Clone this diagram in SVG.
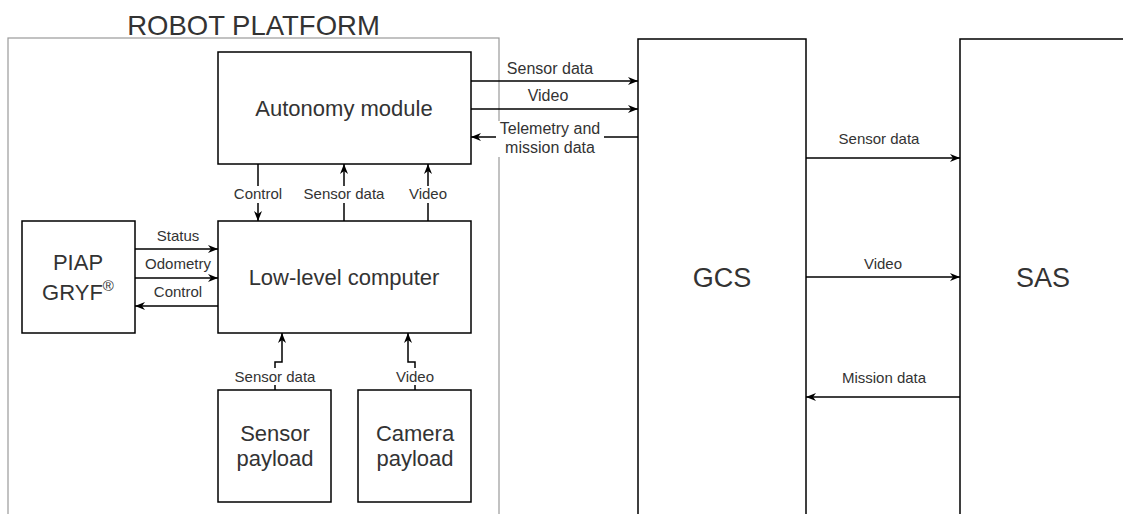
<svg xmlns="http://www.w3.org/2000/svg" width="1123" height="514" viewBox="0 0 1123 514">
  <style>
    .box { fill: #fff; stroke: #000; stroke-width: 1.5; }
    .frame { fill: none; stroke: #9a9a9a; stroke-width: 1.2; }
    .wire { fill: none; stroke: #000; stroke-width: 1.5; }
    .big { font-family: "Liberation Sans", Arial, sans-serif; font-size: 22px; fill: #333; text-anchor: middle; }
    .huge { font-family: "Liberation Sans", Arial, sans-serif; font-size: 27px; fill: #333; text-anchor: middle; }
    .lbl { font-family: "Liberation Sans", Arial, sans-serif; font-size: 15px; fill: #333; text-anchor: middle; }
    .lbl16 { font-family: "Liberation Sans", Arial, sans-serif; font-size: 16px; fill: #333; text-anchor: middle; }
    .bg { fill: #fff; stroke: none; }
  </style>
  <defs>
    <marker id="arrow" viewBox="0 0 10 8" refX="10" refY="4" markerWidth="10" markerHeight="8" markerUnits="userSpaceOnUse" orient="auto">
      <path d="M0,0 L10,4 L0,8 L3,4 z" fill="#000"/>
    </marker>
  </defs>

  <!-- robot platform container -->
  <g id="robot-platform">
    <rect class="frame" x="8" y="38" width="491" height="500"/>
    <text class="huge" x="253.5" y="35" style="font-size:27.5px">ROBOT PLATFORM</text>
  </g>

  <!-- external stations -->
  <g id="gcs">
    <rect class="box" x="638" y="39" width="168" height="500"/>
    <text class="huge" x="722" y="287">GCS</text>
  </g>
  <g id="sas">
    <rect class="box" x="960" y="39" width="168" height="500"/>
    <text class="huge" x="1043" y="287">SAS</text>
  </g>

  <!-- platform modules -->
  <g id="autonomy-module">
    <rect class="box" x="218" y="52" width="253" height="112"/>
    <text class="big" x="344" y="116">Autonomy module</text>
  </g>
  <g id="low-level-computer">
    <rect class="box" x="218" y="221" width="253" height="112"/>
    <text class="big" x="344" y="285">Low-level computer</text>
  </g>
  <g id="piap-gryf">
    <rect class="box" x="22" y="221" width="113" height="112"/>
    <text class="big" x="78" y="270">PIAP</text>
    <text class="big" x="78" y="300">GRYF<tspan style="font-size:15px" dy="-9">®</tspan></text>
  </g>
  <g id="sensor-payload">
    <rect class="box" x="218" y="390" width="113" height="112"/>
    <text class="big" x="275" y="441">Sensor</text>
    <text class="big" x="275" y="466">payload</text>
  </g>
  <g id="camera-payload">
    <rect class="box" x="358" y="390" width="113" height="112"/>
    <text class="big" x="415" y="441">Camera</text>
    <text class="big" x="415" y="466">payload</text>
  </g>

  <!-- connectors -->
  <g id="connectors">
    <!-- autonomy module <-> GCS -->
    <path class="wire" d="M471,81 H638" marker-end="url(#arrow)"/>
    <text class="lbl16" x="550" y="74">Sensor data</text>
    <path class="wire" d="M471,109 H638" marker-end="url(#arrow)"/>
    <text class="lbl16" x="548" y="101">Video</text>
    <path class="wire" d="M638,137 H471" marker-end="url(#arrow)"/>
    <rect class="bg" x="496" y="121" width="108" height="36"/>
    <text class="lbl16" x="550" y="134">Telemetry and</text>
    <text class="lbl16" x="550" y="153">mission data</text>

    <!-- autonomy module <-> low-level computer -->
    <path class="wire" d="M258,164 V221" marker-end="url(#arrow)"/>
    <rect class="bg" x="233" y="186" width="50" height="17"/>
    <text class="lbl" x="258" y="199">Control</text>
    <path class="wire" d="M344,221 V164" marker-end="url(#arrow)"/>
    <rect class="bg" x="303" y="186" width="82" height="17"/>
    <text class="lbl" x="344" y="199">Sensor data</text>
    <path class="wire" d="M428,221 V164" marker-end="url(#arrow)"/>
    <rect class="bg" x="408" y="186" width="40" height="17"/>
    <text class="lbl" x="428" y="199">Video</text>

    <!-- PIAP GRYF <-> low-level computer -->
    <path class="wire" d="M135,249 H218" marker-end="url(#arrow)"/>
    <text class="lbl" x="178" y="241">Status</text>
    <path class="wire" d="M135,278 H218" marker-end="url(#arrow)"/>
    <text class="lbl" x="178" y="269">Odometry</text>
    <path class="wire" d="M218,306 H135" marker-end="url(#arrow)"/>
    <text class="lbl" x="178" y="297">Control</text>

    <!-- payloads -> low-level computer -->
    <path class="wire" d="M275,390 V362 H282 V333" marker-end="url(#arrow)"/>
    <rect class="bg" x="234" y="368" width="82" height="17"/>
    <text class="lbl" x="275" y="382">Sensor data</text>
    <path class="wire" d="M415,390 V362 H408 V333" marker-end="url(#arrow)"/>
    <rect class="bg" x="395" y="368" width="40" height="17"/>
    <text class="lbl" x="415" y="382">Video</text>

    <!-- GCS <-> SAS -->
    <path class="wire" d="M806,158 H960" marker-end="url(#arrow)"/>
    <text class="lbl" x="879" y="144">Sensor data</text>
    <path class="wire" d="M806,277 H960" marker-end="url(#arrow)"/>
    <text class="lbl" x="883" y="269">Video</text>
    <path class="wire" d="M960,397 H806" marker-end="url(#arrow)"/>
    <text class="lbl" x="884" y="383">Mission data</text>
  </g>
</svg>
